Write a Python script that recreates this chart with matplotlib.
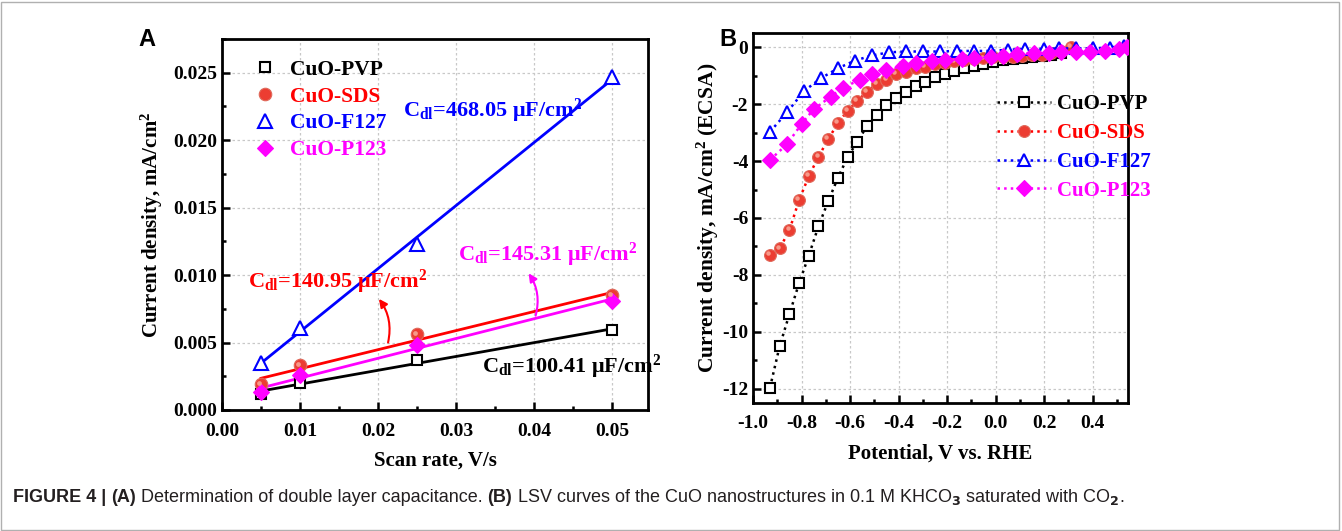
import numpy as np
import matplotlib
matplotlib.use("Agg")
import matplotlib.pyplot as plt
from matplotlib.lines import Line2D
from matplotlib.patches import Rectangle
from matplotlib.ticker import MultipleLocator
from matplotlib.transforms import offset_copy

# ---------- data: panel A (Cdl) ----------
scan_rate = [0.005, 0.01, 0.025, 0.05]
j_pvp = [0.0012, 0.0020, 0.0037, 0.0059]
j_sds = [0.0019, 0.0033, 0.0056, 0.0085]
j_f127 = [0.0035, 0.0061, 0.0123, 0.0247]
j_p123 = [0.0013, 0.0026, 0.0048, 0.0081]
cdl_labels = ["100.41", "140.95", "468.05", "145.31"]
names = ["CuO-PVP", "CuO-SDS", "CuO-F127", "CuO-P123"]

# ---------- data: panel B (LSV) ----------
e_pvp = [-0.93, -0.89, -0.85, -0.81, -0.77, -0.73, -0.69, -0.65, -0.61, -0.57,
         -0.53, -0.49, -0.45, -0.41, -0.37, -0.33, -0.29, -0.25, -0.21, -0.17,
         -0.13, -0.09, -0.05, -0.01, 0.03, 0.07, 0.11, 0.15, 0.19, 0.23, 0.27]
j_b_pvp = [-11.96, -10.50, -9.38, -8.29, -7.32, -6.29, -5.41, -4.59, -3.86, -3.32,
           -2.77, -2.38, -2.04, -1.80, -1.56, -1.35, -1.21, -1.04, -0.93, -0.82,
           -0.72, -0.65, -0.58, -0.51, -0.46, -0.42, -0.38, -0.34, -0.30, -0.26, -0.22]

e_sds = [-0.93, -0.89, -0.85, -0.81, -0.77, -0.73, -0.69, -0.65, -0.61, -0.57,
         -0.53, -0.49, -0.45, -0.41, -0.37, -0.33, -0.29, -0.25, -0.21, -0.17,
         -0.13, -0.09, -0.05, -0.01, 0.03, 0.07, 0.11, 0.15, 0.19, 0.23, 0.27, 0.31]
j_b_sds = [-7.31, -7.07, -6.43, -5.37, -4.53, -3.85, -3.23, -2.67, -2.23, -1.89,
           -1.56, -1.29, -1.15, -0.95, -0.87, -0.74, -0.68, -0.60, -0.54, -0.50,
           -0.45, -0.42, -0.39, -0.36, -0.35, -0.33, -0.30, -0.28, -0.26, -0.21, -0.15, 0.0]

e_f127 = [-0.93, -0.86, -0.79, -0.72, -0.65, -0.58, -0.51, -0.44, -0.37, -0.30,
          -0.23, -0.16, -0.09, -0.02, 0.05, 0.12, 0.20, 0.26, 0.33, 0.40, 0.47, 0.53]
j_b_f127 = [-2.97, -2.29, -1.54, -1.09, -0.74, -0.47, -0.29, -0.18, -0.15, -0.15,
            -0.15, -0.13, -0.13, -0.13, -0.09, -0.06, -0.06, -0.04, -0.04, -0.04, -0.01, 0.05]

e_p123 = [-0.93, -0.86, -0.80, -0.75, -0.68, -0.63, -0.56, -0.51, -0.45, -0.38,
          -0.33, -0.26, -0.21, -0.14, -0.09, -0.02, 0.03, 0.09, 0.16, 0.22, 0.27,
          0.33, 0.39, 0.45, 0.51, 0.54]
j_b_p123 = [-3.96, -3.41, -2.70, -2.18, -1.74, -1.42, -1.15, -0.95, -0.80, -0.66,
            -0.56, -0.50, -0.45, -0.41, -0.39, -0.33, -0.30, -0.25, -0.21, -0.19,
            -0.18, -0.18, -0.18, -0.15, -0.07, 0.0]

colors = ["black", "red", "blue", "magenta"]

# ---------- style ----------
plt.rcParams["font.family"] = ["Liberation Serif", "DejaVu Serif"]
plt.rcParams["font.weight"] = "bold"
plt.rcParams["axes.labelweight"] = "bold"
plt.rcParams["axes.unicode_minus"] = False
plt.rcParams["mathtext.fontset"] = "custom"
plt.rcParams["mathtext.rm"] = "Liberation Serif:bold"
plt.rcParams["mathtext.it"] = "Liberation Serif:bold:italic"
plt.rcParams["mathtext.bf"] = "Liberation Serif:bold"

FS = 14


def marker_kw(i, ms):
    if i == 0:
        return dict(marker="s", ms=ms * 0.85, mfc="white", mec="black", mew=1.5)
    if i == 1:
        return dict(marker="o", ms=ms, mfc="#ec3d32", mec="#e0685a", mew=0.8)
    if i == 2:
        return dict(marker="^", ms=ms * 1.05, mfc="white", mec="blue", mew=1.5)
    return dict(marker="D", ms=ms * 0.9, mfc="magenta", mec="magenta", mew=0.8)


def sphere_glint(ax, xs, ys, ms, z):
    # small light spot so the red balls look shaded like in the original
    tr = offset_copy(ax.transData, fig=ax.figure, x=-1.3, y=1.3, units="points")
    ax.plot(xs, ys, ls="none", marker="o", ms=ms * 0.38, mfc="#f9a493",
            mec="none", alpha=0.9, transform=tr, zorder=z)


def style_axes(ax):
    for s in ax.spines.values():
        s.set_linewidth(2.0)
    ax.tick_params(which="both", direction="in", width=1.8, labelsize=FS)
    ax.tick_params(which="major", length=6)
    ax.tick_params(which="minor", length=3)
    ax.tick_params(axis="x", pad=9)
    ax.grid(True, which="major", linestyle=(0, (2, 2)), color="#c8c8c8", linewidth=0.9)
    ax.set_axisbelow(True)


fig = plt.figure(figsize=(13.42, 5.31), dpi=100)

# ---------- panel A ----------
axA = fig.add_axes([222 / 1342, 1 - 410 / 531, 426 / 1342, 371 / 531])
style_axes(axA)
seriesA = [j_pvp, j_sds, j_f127, j_p123]
xfit = np.array([scan_rate[0], scan_rate[-1]])
for i, ys in enumerate(seriesA):
    k, b = np.polyfit(scan_rate, ys, 1)
    axA.plot(xfit, k * xfit + b, color=colors[i], lw=2.0, zorder=2)
for i, ys in enumerate(seriesA):
    axA.plot(scan_rate, ys, ls="none", zorder=3, **marker_kw(i, 9))
    if i == 1:
        sphere_glint(axA, scan_rate, ys, 9, 3.1)

axA.set_xlim(0, 0.0546)
axA.set_ylim(0, 0.0275)
axA.xaxis.set_major_locator(MultipleLocator(0.01))
axA.xaxis.set_minor_locator(MultipleLocator(0.005))
axA.yaxis.set_major_locator(MultipleLocator(0.005))
axA.yaxis.set_minor_locator(MultipleLocator(0.0025))
axA.set_xticks([0.0, 0.01, 0.02, 0.03, 0.04, 0.05])
axA.set_xticklabels(["0.00", "0.01", "0.02", "0.03", "0.04", "0.05"])
axA.set_yticks([0.0, 0.005, 0.010, 0.015, 0.020, 0.025])
axA.set_yticklabels(["0.000", "0.005", "0.010", "0.015", "0.020", "0.025"])
axA.set_xlabel("Scan rate, V/s", fontsize=FS + 1, labelpad=8)
axA.set_ylabel("Current density, mA/cm$^2$", fontsize=FS + 1, labelpad=6)

handlesA = [Line2D([], [], ls="none", **marker_kw(i, 9)) for i in range(4)]
axA.legend(handlesA, names, loc="upper left", bbox_to_anchor=(0.025, 0.997),
           frameon=False, fontsize=FS + 1.5, labelcolor=colors, handletextpad=0.55,
           labelspacing=0.32, handlelength=1.2)

fsA = FS + 2
axA.text(0.0232, 0.0222, r"C$_{\rm dl}$=468.05 μF/cm$^2$", color="blue", fontsize=fsA, va="center")
axA.text(0.0033, 0.0095, r"C$_{\rm dl}$=140.95 μF/cm$^2$", color="red", fontsize=fsA, va="center")
axA.text(0.0303, 0.0115, r"C$_{\rm dl}$=145.31 μF/cm$^2$", color="magenta", fontsize=fsA, va="center")
axA.text(0.0333, 0.0032, r"C$_{\rm dl}$=100.41 μF/cm$^2$", color="black", fontsize=fsA, va="center")
axA.annotate("", xy=(0.0199, 0.0084), xytext=(0.0212, 0.0048),
             arrowprops=dict(arrowstyle="-|>", color="red", lw=1.5,
                             connectionstyle="arc3,rad=0.25", mutation_scale=12))
axA.annotate("", xy=(0.0391, 0.0103), xytext=(0.0401, 0.0068),
             arrowprops=dict(arrowstyle="-|>", color="magenta", lw=1.5,
                             connectionstyle="arc3,rad=0.25", mutation_scale=12))

# ---------- panel B ----------
axB = fig.add_axes([753 / 1342, 1 - 403 / 531, 375 / 1342, 370 / 531])
style_axes(axB)
seriesB = [(e_pvp, j_b_pvp), (e_sds, j_b_sds), (e_f127, j_b_f127), (e_p123, j_b_p123)]
for i, (xs, ys) in enumerate(seriesB):
    axB.plot(xs, ys, ls=":", lw=1.8, color=colors[i], zorder=3 + i, **marker_kw(i, 8.5))
    if i == 1:
        sphere_glint(axB, xs, ys, 8.5, 4.1)
axB.set_xlim(-1.0, 0.546)
axB.set_ylim(-12.5, 0.5)
axB.xaxis.set_major_locator(MultipleLocator(0.2))
axB.xaxis.set_minor_locator(MultipleLocator(0.1))
axB.yaxis.set_major_locator(MultipleLocator(2))
axB.yaxis.set_minor_locator(MultipleLocator(1))
axB.set_xticks([-1.0, -0.8, -0.6, -0.4, -0.2, 0.0, 0.2, 0.4])
axB.set_xticklabels(["-1.0", "-0.8", "-0.6", "-0.4", "-0.2", "0.0", "0.2", "0.4"])
axB.set_xlabel("Potential, V vs. RHE", fontsize=FS + 1, labelpad=8)
axB.set_ylabel("Current density, mA/cm$^2$ (ECSA)", fontsize=FS + 1.5, labelpad=1)

handlesB = [Line2D([], [], ls=":", lw=1.8, color=colors[i], **marker_kw(i, 8.5)) for i in range(4)]
axB.legend(handlesB, names, loc="upper left", bbox_to_anchor=(0.6, 0.885),
           frameon=False, fontsize=FS + 1, labelcolor=colors, handletextpad=0.3,
           labelspacing=0.42, handlelength=2.6)

# ---------- panel letters ----------
fig.text(147 / 1342, 1 - 40 / 531, "A", fontsize=17, fontweight="bold",
         family="Liberation Sans", va="center", ha="center")
fig.text(728 / 1342, 1 - 39 / 531, "B", fontsize=17, fontweight="bold",
         family="Liberation Sans", va="center", ha="center")

# ---------- caption ----------
pieces = [
    ("FIGURE 4 | ", "bold"),
    ("(A)", "bold"),
    (" Determination of double layer capacitance. ", "normal"),
    ("(B)", "bold"),
    (" LSV curves of the CuO nanostructures in 0.1 M KHCO$_3$ saturated with CO$_2$.", "normal"),
]
renderer = fig.canvas.get_renderer()
xpix = 13
for s, w in pieces:
    t = fig.text(xpix / 1342, 1 - 502 / 531, s, fontsize=13, fontweight=w,
                 family="Liberation Sans", math_fontfamily="dejavusans",
                 va="baseline", ha="left", color="#231f20")
    xpix += t.get_window_extent(renderer).width

fig.add_artist(Rectangle((0.001, 0.002), 0.997, 0.994, transform=fig.transFigure,
                         fill=False, edgecolor="#b0b0b0", lw=1.0))

fig.savefig("out.png", dpi=100)
